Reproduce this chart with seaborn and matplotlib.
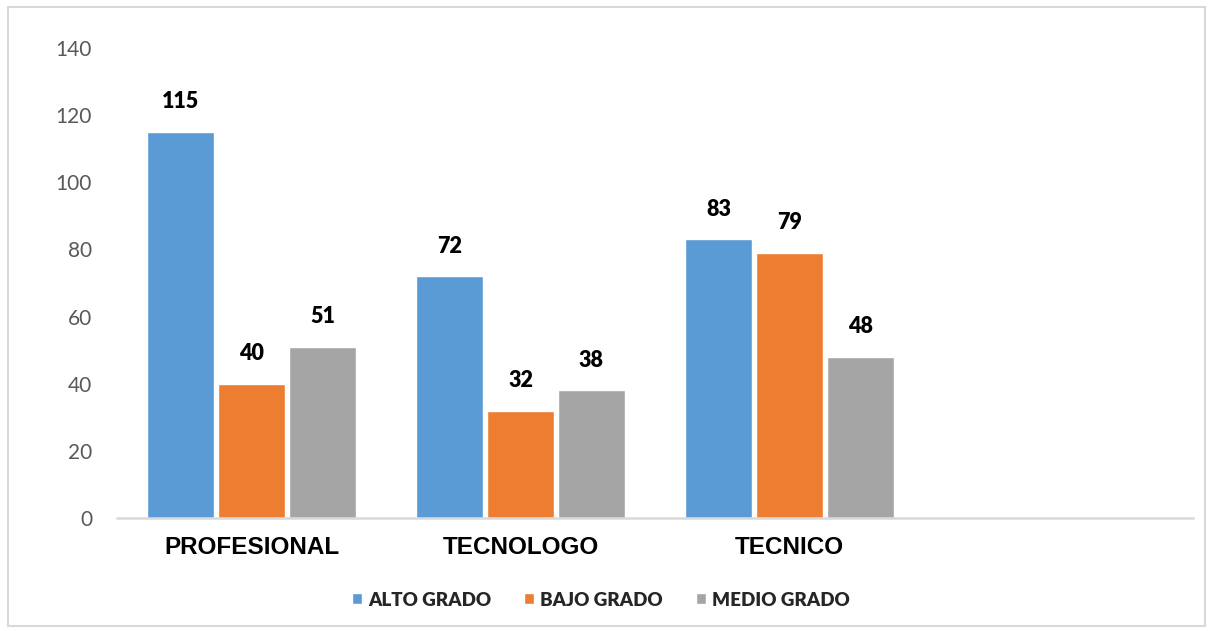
import pandas as pd
import seaborn as sns
import matplotlib.pyplot as plt
from matplotlib.patches import Rectangle

# data
categorias = ["PROFESIONAL", "TECNOLOGO", "TECNICO", " "]
series = ["ALTO GRADO", "BAJO GRADO", "MEDIO GRADO"]
alto = [115, 72, 83, 0]
bajo = [40, 32, 79, 0]
medio = [51, 38, 48, 0]
yticks = [0, 20, 40, 60, 80, 100, 120, 140]

colores = ["#5b9bd5", "#ed7d31", "#a5a5a5"]

rows = []
for i, cat in enumerate(categorias):
    for s, vals in zip(series, [alto, bajo, medio]):
        rows.append({"cat": cat, "serie": s, "valor": vals[i]})
df = pd.DataFrame(rows)

sns.set_style("white")
plt.rcParams['font.family'] = ['Lato', 'DejaVu Sans']

fig = plt.figure(figsize=(12.13, 6.31), dpi=100)
ax = fig.add_axes([0.0965, 0.179, 0.887, 0.745])

sns.barplot(data=df, x="cat", y="valor", hue="serie", order=categorias,
            hue_order=series, palette=colores, width=0.79, gap=0.06,
            saturation=1, ax=ax, legend=True)

# value labels (skip the empty slot)
for cont in ax.containers:
    labels = [f"{int(b.get_height())}" if b.get_height() > 0 else "" for b in cont]
    ax.bar_label(cont, labels=labels, padding=14, fontsize=15.5, fontweight="heavy",
                 color="black")

ax.set_ylim(0, 140)
ax.set_yticks(yticks)
ax.tick_params(axis="y", labelsize=15, labelcolor="#595959", length=0, pad=18)
ax.tick_params(axis="x", length=0, pad=13)
ax.set_xticks(range(len(categorias)))
ax.set_xticklabels(categorias, fontfamily="Liberation Sans", fontweight="bold",
                   fontsize=17.5, color="black")
ax.set_xlabel("")
ax.set_ylabel("")
for side in ["top", "right", "left"]:
    ax.spines[side].set_visible(False)
ax.spines["bottom"].set_color("#d9d9d9")
ax.spines["bottom"].set_linewidth(1.8)

leg = ax.legend(loc="center", bbox_to_anchor=(0.4955, 0.049), bbox_transform=fig.transFigure,
                ncol=3, frameon=False, handlelength=0.53, handleheight=0.53,
                handletextpad=0.32, columnspacing=1.76,
                prop={"family": "Lato", "weight": "heavy", "size": 13.5})

# outer chart border
fig.patches.append(Rectangle((0.0066, 0.008), 0.987, 0.981, transform=fig.transFigure,
                             fill=False, edgecolor="#d9d9d9", linewidth=1.5))

fig.savefig("out.png", dpi=100)
